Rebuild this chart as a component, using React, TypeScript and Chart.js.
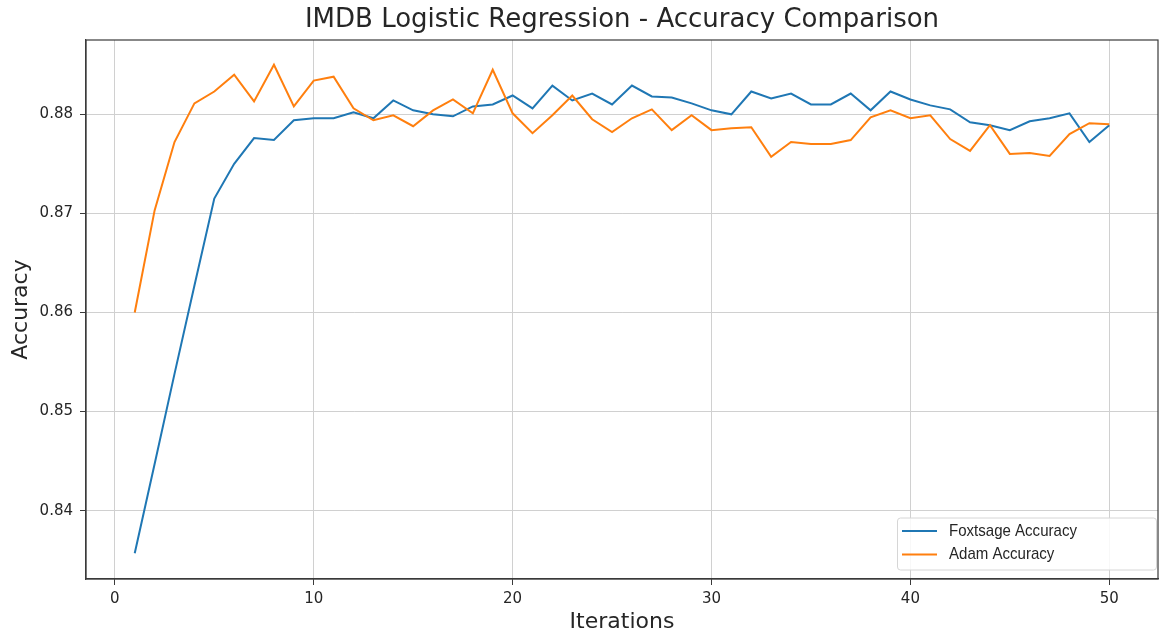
import React, { useEffect, useRef } from "react";
import { Chart, registerables } from "chart.js";

Chart.register(...registerables);

const iterations = [
  1, 2, 3, 4, 5, 6, 7, 8, 9, 10, 11, 12, 13, 14, 15, 16, 17, 18, 19, 20, 21, 22, 23, 24, 25,
  26, 27, 28, 29, 30, 31, 32, 33, 34, 35, 36, 37, 38, 39, 40, 41, 42, 43, 44, 45, 46, 47, 48, 49, 50,
];

const foxtsageAccuracy = [
  0.8357, 0.8447, 0.8538, 0.8627, 0.8715, 0.875, 0.8776, 0.8774, 0.8794, 0.8796,
  0.8796, 0.8802, 0.8796, 0.8814, 0.8804, 0.88, 0.8798, 0.8808, 0.881, 0.8819,
  0.8806, 0.8829, 0.8814, 0.8821, 0.881, 0.8829, 0.8818, 0.8817, 0.8811, 0.8804,
  0.88, 0.8823, 0.8816, 0.8821, 0.881, 0.881, 0.8821, 0.8804, 0.8823, 0.8815,
  0.8809, 0.8805, 0.8792, 0.8789, 0.8784, 0.8793, 0.8796, 0.8801, 0.8772, 0.8789,
];

const adamAccuracy = [
  0.86, 0.8703, 0.8772, 0.8811, 0.8823, 0.884, 0.8813, 0.885, 0.8808, 0.8834,
  0.8838, 0.8806, 0.8794, 0.8799, 0.8788, 0.8804, 0.8815, 0.8801, 0.8845, 0.8801,
  0.8781, 0.8799, 0.8819, 0.8795, 0.8782, 0.8796, 0.8805, 0.8784, 0.8799, 0.8784,
  0.8786, 0.8787, 0.8757, 0.8772, 0.877, 0.877, 0.8774, 0.8797, 0.8804, 0.8796,
  0.8799, 0.8775, 0.8763, 0.8789, 0.876, 0.8761, 0.8758, 0.878, 0.8791, 0.879,
];

const xTicks = [0, 10, 20, 30, 40, 50];
const yTicks = [0.84, 0.85, 0.86, 0.87, 0.88];

const chartTitle = "IMDB Logistic Regression - Accuracy Comparison";
const seriesNames = ["Foxtsage Accuracy", "Adam Accuracy"];
const seriesColors = ["#1f77b4", "#ff7f0e"];

const FONT = "'DejaVu Sans', sans-serif";
const TEXT = "#262626";

const frameTitleLegend = {
  id: "frameTitleLegend",
  afterDraw(chart: any) {
    const { ctx, chartArea } = chart;
    ctx.save();
    // title centred over the plot area
    ctx.fillStyle = TEXT;
    ctx.font = `26px ${FONT}`;
    ctx.textAlign = "center";
    ctx.textBaseline = "middle";
    ctx.fillText(chartTitle, (chartArea.left + chartArea.right) / 2, 20);

    // full box frame like matplotlib spines
    ctx.strokeStyle = "#3a3a3a";
    ctx.lineWidth = 1.2;
    ctx.strokeRect(chartArea.left, chartArea.top, chartArea.right - chartArea.left, chartArea.bottom - chartArea.top);

    // legend (bottom right)
    const bx = 897.5, by = 518, bw = 259, bh = 52;
    ctx.fillStyle = "rgba(255,255,255,0.85)";
    ctx.strokeStyle = "#d6d6d6";
    ctx.lineWidth = 1;
    ctx.beginPath();
    if ((ctx as any).roundRect) (ctx as any).roundRect(bx, by, bw, bh, 3);
    else ctx.rect(bx, by, bw, bh);
    ctx.fill();
    ctx.stroke();

    ctx.font = "17px 'Liberation Sans', sans-serif";
    ctx.textBaseline = "middle";
    ctx.textAlign = "left";
    chart.data.datasets.forEach((ds: any, i: number) => {
      const y = 531 + i * 23.5;
      ctx.strokeStyle = ds.borderColor;
      ctx.lineWidth = 2;
      ctx.beginPath();
      ctx.moveTo(902, y);
      ctx.lineTo(937, y);
      ctx.stroke();
      ctx.save();
      ctx.translate(949, y);
      ctx.scale(0.885, 1);
      ctx.fillStyle = TEXT;
      ctx.fillText(ds.label, 0, 0);
      ctx.restore();
    });
    ctx.restore();
  },
};

export default function App() {
  const ref = useRef<HTMLCanvasElement | null>(null);

  useEffect(() => {
    document.body.style.margin = "0";
    const canvas = ref.current;
    if (!canvas) return;

    const datasets = [foxtsageAccuracy, adamAccuracy].map((vals, k) => ({
      label: seriesNames[k],
      data: iterations.map((x, i) => ({ x, y: vals[i] })),
      borderColor: seriesColors[k],
      backgroundColor: seriesColors[k],
      borderWidth: 2,
      pointRadius: 0,
      tension: 0,
      fill: false,
      order: k === 0 ? 1 : 0,
    }));

    const chart = new Chart(canvas, {
      type: "line",
      data: { datasets },
      plugins: [frameTitleLegend],
      options: {
        animation: false,
        responsive: false,
        maintainAspectRatio: false,
        layout: { padding: { left: 0, right: 7, top: 40, bottom: 0 } },
        plugins: {
          legend: { display: false },
          tooltip: { enabled: false },
          title: { display: false },
        },
        scales: {
          x: {
            type: "linear",
            min: -1.45,
            max: 52.45,
            afterBuildTicks: (s: any) => {
              s.ticks = xTicks.map((v) => ({ value: v }));
            },
            afterFit: (s: any) => {
              s.height = 57;
            },
            grid: {
              color: "#d0d0d0",
              lineWidth: 1,
              drawTicks: true,
              tickLength: 6,
              tickColor: "#3a3a3a",
            },
            border: { display: true, color: "#3a3a3a", width: 1.2 },
            ticks: {
              color: TEXT,
              font: { family: FONT, size: 15 },
              padding: 5,
              maxRotation: 0,
              callback: (v: any) => String(v),
            },
            title: {
              display: true,
              text: "Iterations",
              color: TEXT,
              font: { family: FONT, size: 22 },
              padding: { top: 0, bottom: 1 },
            },
          },
          y: {
            type: "linear",
            min: 0.8331,
            max: 0.8875,
            afterBuildTicks: (s: any) => {
              s.ticks = yTicks.map((v) => ({ value: v }));
            },
            afterFit: (s: any) => {
              s.width = 86;
            },
            grid: {
              color: "#d0d0d0",
              lineWidth: 1,
              drawTicks: true,
              tickLength: 6,
              tickColor: "#3a3a3a",
            },
            border: { display: true, color: "#3a3a3a", width: 1.2 },
            ticks: {
              color: TEXT,
              font: { family: FONT, size: 15 },
              padding: 7,
              callback: (v: any) => Number(v).toFixed(2),
            },
            title: {
              display: true,
              text: "Accuracy",
              color: TEXT,
              font: { family: FONT, size: 22 },
              padding: { top: 8, bottom: 0 },
            },
          },
        },
      },
    });

    return () => chart.destroy();
  }, []);

  return (
    <div style={{ position: "absolute", left: 0, top: 0, width: 1165, height: 636 }}>
      <canvas ref={ref} width={1165} height={636} style={{ width: 1165, height: 636, display: "block" }} />
    </div>
  );
}
